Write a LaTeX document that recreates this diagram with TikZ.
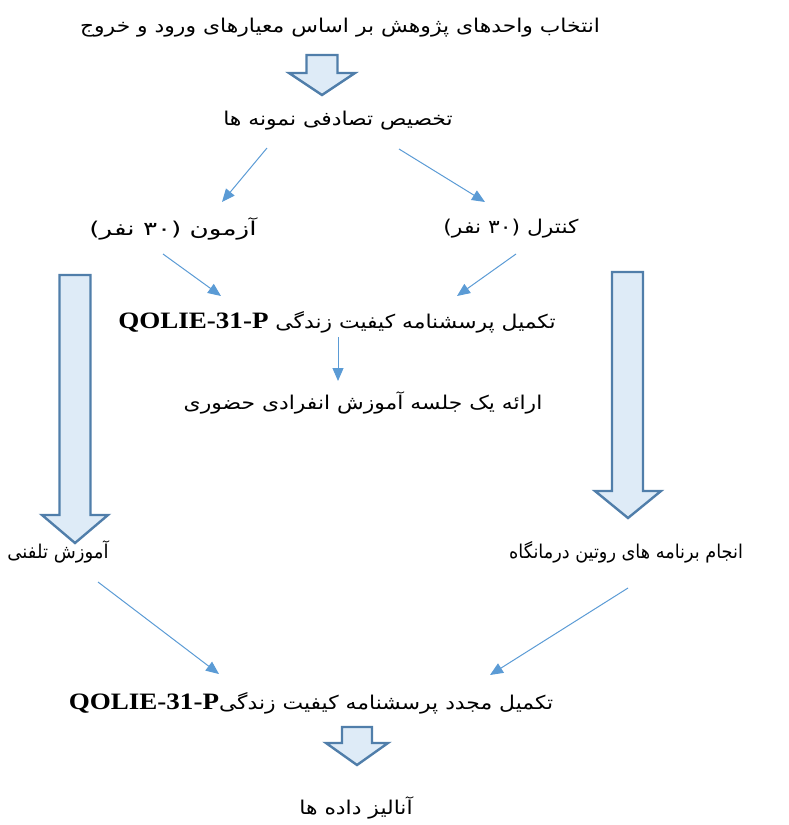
\documentclass[tikz,border=0pt]{standalone}
\usepackage{fontspec}
\setmainfont{Liberation Serif}
\newfontfamily\fa[Script=Arabic]{DejaVu Sans}
\TeXXeTstate=1
\usetikzlibrary{arrows.meta}
\definecolor{thinblue}{RGB}{91,155,213}
\definecolor{bfill}{RGB}{222,235,247}
\definecolor{bline}{RGB}{80,126,170}
\newcommand\qol{{\rmfamily\bfseries\fontsize{23.5}{25}\selectfont QOLIE-31-P}}
\newcommand\fatext[2][1.15]{\scalebox{#1}[1]{\beginR #2\endR}}
\tikzset{
  txt/.style={inner sep=0pt, font=\fa\fontsize{19}{22}\selectfont},
  thinarrow/.style={draw=thinblue, line width=1pt, -{Triangle[length=13pt,width=11pt]}},
  blockarrow/.style={draw=bline, fill=bfill, line width=2.4pt, line join=miter},
}
\begin{document}
\begin{tikzpicture}[x=1pt,y=-1pt]
\useasboundingbox (0,0) rectangle (789,825);
% text nodes
\node[txt] (t1) at (340,28) {\fatext{انتخاب واحدهای پژوهش بر اساس معیارهای ورود و خروج}};
\node[txt] (t2) at (338,121) {\fatext{تخصیص تصادفی نمونه ها}};
\node[txt] (t3) at (173,229) {\fatext[1.38]{آزمون (۳۰ نفر)}};
\node[txt] (t4) at (511,229) {\fatext{کنترل (۳۰ نفر)}};
\node[txt] (t5) at (337,322) {\fatext{تکمیل  پرسشنامه کیفیت زندگی \beginL\qol\endL}};
\node[txt] (t6) at (363,403) {\fatext{ارائه یک جلسه آموزش انفرادی حضوری}};
\node[txt] (t7) at (58,552) {\fatext[0.95]{آموزش تلفنی}};
\node[txt] (t8) at (626,552) {\fatext[0.93]{انجام برنامه های روتین درمانگاه}};
\node[txt] (t9) at (311,703) {\fatext{تکمیل مجدد پرسشنامه کیفیت زندگی\beginL\qol\endL}};
\node[txt] (t10) at (356,808) {\fatext{آنالیز داده ها}};
% connector end points
\coordinate (a1s) at (267,148); \coordinate (a1e) at (222,202);
\coordinate (a2s) at (399,149); \coordinate (a2e) at (485,202);
\coordinate (a3s) at (163,254); \coordinate (a3e) at (221,296);
\coordinate (a4s) at (516,254); \coordinate (a4e) at (457,296);
\coordinate (a5s) at (338,337); \coordinate (a5e) at (338,381);
\coordinate (a6s) at (98,582);  \coordinate (a6e) at (219,674);
\coordinate (a7s) at (628,588); \coordinate (a7e) at (490,675);
\draw[thinarrow] (a1s) -- (a1e);
\draw[thinarrow] (a2s) -- (a2e);
\draw[thinarrow] (a3s) -- (a3e);
\draw[thinarrow] (a4s) -- (a4e);
\draw[thinarrow] (a5s) -- (a5e);
\draw[thinarrow] (a6s) -- (a6e);
\draw[thinarrow] (a7s) -- (a7e);
% block arrows
\draw[blockarrow] (306.5,55) -- (337.5,55) -- (337.5,73) -- (355,73) -- (322,95) -- (289,73) -- (306.5,73) -- cycle;
\draw[blockarrow] (59.5,275) -- (90.5,275) -- (90.5,515) -- (108,515) -- (75,543) -- (42,515) -- (59.5,515) -- cycle;
\draw[blockarrow] (612,272) -- (643,272) -- (643,491) -- (661,491) -- (628,518) -- (595,491) -- (612,491) -- cycle;
\draw[blockarrow] (342,727) -- (372,727) -- (372,743) -- (388,743) -- (357,765) -- (326,743) -- (342,743) -- cycle;
\end{tikzpicture}
\end{document}
